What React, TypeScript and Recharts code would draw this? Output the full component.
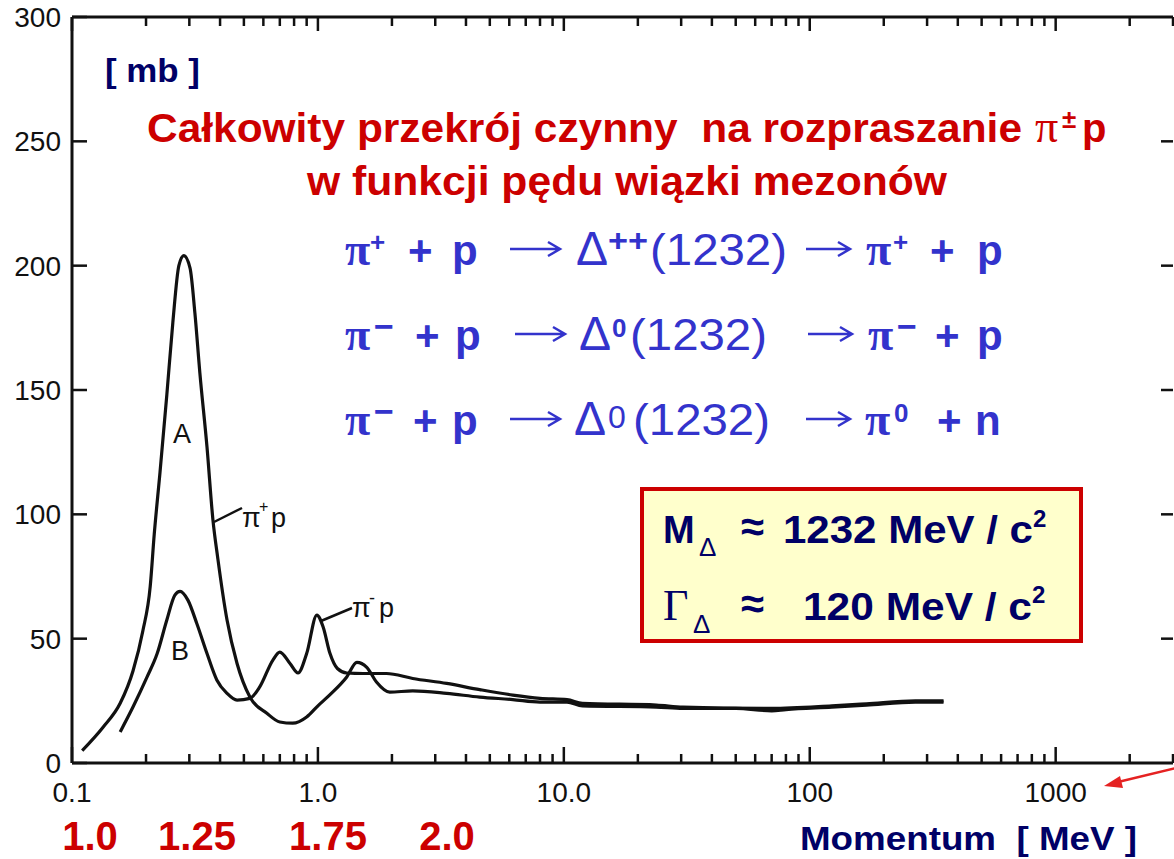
import React from 'react';
import { LineChart, Line, XAxis, YAxis, ReferenceLine } from 'recharts';

// pi+ p total cross-section (curve A), momentum in GeV/c, sigma in mb
const piPlusMomentum = [
  0.11, 0.134, 0.157, 0.177, 0.194, 0.208, 0.216, 0.228, 0.243, 0.257, 0.272, 0.285,
  0.302, 0.316, 0.331, 0.354, 0.374, 0.392, 0.427, 0.469, 0.529, 0.62, 0.7, 0.79,
  0.9, 1.0, 1.12, 1.31, 1.44, 1.58, 1.73, 1.96, 2.43, 3.34, 4.55, 6.2, 8.0, 10.3,
  11.9, 23.8, 30.5, 50, 70, 80, 123, 170, 269, 350,
];
const piPlusSigma = [
  5, 14.5, 24, 37, 53, 71, 92, 117, 148, 177, 200, 204,
  199, 181, 157, 127, 98, 82, 57.5, 40, 26.5, 20, 16.5, 16,
  18.5, 23, 27.5, 34.6, 40.5, 38.5, 32.6, 28.5, 29, 28, 26.5, 25.5, 24.5, 24.5,
  23, 22.5, 22, 22, 21, 21.5, 22.5, 23.3, 24.5, 24.5,
];

// pi- p total cross-section (curve B)
const piMinusMomentum = [
  0.157, 0.177, 0.202, 0.222, 0.243, 0.262, 0.275, 0.296, 0.322, 0.354, 0.388, 0.427,
  0.469, 0.529, 0.58, 0.656, 0.7, 0.77, 0.83, 0.9, 0.99, 1.05, 1.12, 1.2, 1.31,
  1.53, 1.9, 2.43, 3.34, 4.55, 6.2, 8.0, 10.3, 11.9, 23.8, 30.5, 70, 123, 170, 269, 350,
];
const piMinusSigma = [
  12.5, 22.5, 34.6, 44, 57.5, 67.5, 69, 65.5, 56, 44, 33.4, 28,
  25.3, 26, 30.6, 41.4, 44.6, 40, 36.2, 44, 59.5, 54.7, 44, 38, 36.2,
  36, 36, 34, 32, 29.5, 27.3, 26, 25.5, 24, 23.3, 22.5, 22, 23, 23.8, 25, 25,
];

const DECADES = [0.1, 1, 10, 100, 1000];
const X_TICK_LABELS = ['0.1', '1.0', '10.0', '100', '1000'];
const X_DOMAIN: [number, number] = [0.1, 3000];
const Y_TICKS = [0, 50, 100, 150, 200, 250, 300];
const ENERGY_LABELS = ['1.0', '1.25', '1.75', '2.0'];

const xTicks = DECADES.flatMap(d => [1, 2, 3, 4, 5, 6, 7, 8, 9].map(k => k * d)).filter(v => v <= X_DOMAIN[1]);

const piPlusData = piPlusMomentum.map((x, i) => ({ x, y: piPlusSigma[i] }));
const piMinusData = piMinusMomentum.map((x, i) => ({ x, y: piMinusSigma[i] }));

const W = 1174;
const H = 859;
const PLOT_LEFT = 72;
const PLOT_TOP = 17;
const PLOT_BOTTOM = 763;
const PLOT_RIGHT = 1173;

const SANS = '"Liberation Sans", Arial, Helvetica, sans-serif';
const SERIF = '"Liberation Serif", "Times New Roman", serif';
const RED = '#cc0000';
const BLUE = '#3333cc';
const NAVY = '#000066';

const XTick = (props: any) => {
  const { x, payload } = props;
  const v = payload.value;
  const lg = Math.log10(v);
  const major = Math.abs(lg - Math.round(lg)) < 1e-6;
  const idx = DECADES.findIndex(d => Math.abs(Math.log10(d) - lg) < 1e-6);
  return (
    <g>
      <line x1={x} x2={x} y1={PLOT_BOTTOM} y2={PLOT_BOTTOM - (major ? 16 : 9)} stroke="#111" strokeWidth={2.5} />
      <line x1={x} x2={x} y1={PLOT_TOP} y2={PLOT_TOP + (major ? 14 : 9)} stroke="#111" strokeWidth={2.5} />
      {idx >= 0 && (
        <text x={x} y={PLOT_BOTTOM + 39} textAnchor="middle" fontFamily={SANS} fontSize={28} fill="#111">
          {X_TICK_LABELS[idx]}
        </text>
      )}
    </g>
  );
};

const YTick = (props: any) => {
  const { y, payload } = props;
  const v = payload.value;
  return (
    <g>
      <line x1={PLOT_LEFT} x2={PLOT_LEFT + 15} y1={y} y2={y} stroke="#111" strokeWidth={2.5} />
      {v > 0 && v < 300 && (
        <line x1={PLOT_RIGHT - 12} x2={PLOT_RIGHT} y1={y} y2={y} stroke="#111" strokeWidth={2.5} />
      )}
      <text x={61} y={y + 10} textAnchor="end" fontFamily={SANS} fontSize={28} fill="#111">
        {v}
      </text>
    </g>
  );
};

const Arrow = ({ x1, x2, y, color }: { x1: number; x2: number; y: number; color: string }) => (
  <path d={`M${x1} ${y} L${x2} ${y} M${x2 - 12} ${y - 7} L${x2} ${y} L${x2 - 12} ${y + 7}`} stroke={color} strokeWidth={2.5} fill="none" />
);

const t = (x: number, y: number, s: string, size: number, opts: any = {}) => (
  <text
    x={x}
    y={y}
    fontFamily={opts.serif ? SERIF : SANS}
    fontSize={size}
    fontWeight={opts.normal ? 'normal' : 'bold'}
    fill={opts.fill || BLUE}
    textLength={opts.len}
    lengthAdjust={opts.len ? 'spacingAndGlyphs' : undefined}
    style={{ whiteSpace: 'pre' }}
  >
    {s}
  </text>
);

const Overlay = () => (
  <svg width={W} height={H} style={{ position: 'absolute', left: 0, top: 0, pointerEvents: 'none' }}>
    {/* unit */}
    {t(105, 82, '[ mb ]', 34, { fill: NAVY, len: 95 })}

    {/* title */}
    {t(147, 142, 'Całkowity przekrój czynny  na rozpraszanie', 40, { fill: RED, len: 875 })}
    {t(1035, 142, 'π', 46, { fill: RED, serif: true, normal: true })}
    {t(1062, 128, '±', 26, { fill: RED })}
    {t(1082, 142, 'p', 40, { fill: RED })}
    {t(307, 195, 'w funkcji pędu wiązki mezonów', 40, { fill: RED, len: 640 })}

    {/* reaction 1 */}
    {t(345, 265, 'π', 46, { serif: true })}
    {t(370, 251, '+', 26)}
    {t(408, 265, '+', 42)}
    {t(452, 265, 'p', 42)}
    <Arrow x1={510} x2={560} y={249} color={BLUE} />
    {t(576, 265, 'Δ', 48, { normal: true })}
    {t(608, 251, '++', 32, { len: 40 })}
    {t(650, 265, '(1232)', 44, { normal: true, len: 137 })}
    <Arrow x1={806} x2={850} y={249} color={BLUE} />
    {t(866, 265, 'π', 46, { serif: true })}
    {t(893, 251, '+', 26)}
    {t(930, 265, '+', 42)}
    {t(977, 265, 'p', 42)}

    {/* reaction 2 */}
    {t(345, 350, 'π', 46, { serif: true })}
    {t(374, 338, '−', 34)}
    {t(415, 350, '+', 42)}
    {t(455, 350, 'p', 42)}
    <Arrow x1={515} x2={565} y={334} color={BLUE} />
    {t(579, 350, 'Δ', 48, { normal: true })}
    {t(612, 337, '0', 26)}
    {t(630, 350, '(1232)', 44, { normal: true, len: 137 })}
    <Arrow x1={808} x2={852} y={334} color={BLUE} />
    {t(868, 350, 'π', 46, { serif: true })}
    {t(897, 338, '−', 34)}
    {t(935, 350, '+', 42)}
    {t(977, 350, 'p', 42)}

    {/* reaction 3 */}
    {t(345, 435, 'π', 46, { serif: true })}
    {t(374, 423, '−', 34)}
    {t(413, 435, '+', 42)}
    {t(452, 435, 'p', 42)}
    <Arrow x1={510} x2={560} y={419} color={BLUE} />
    {t(574, 435, 'Δ', 48, { normal: true })}
    {t(608, 428, '0', 32, { normal: true })}
    {t(633, 435, '(1232)', 44, { normal: true, len: 137 })}
    <Arrow x1={806} x2={850} y={419} color={BLUE} />
    {t(865, 435, 'π', 46, { serif: true })}
    {t(894, 422, '0', 26)}
    {t(937, 435, '+', 42)}
    {t(975, 435, 'n', 42)}

    {/* parameter box */}
    <rect x={642} y={489} width={439} height={152} fill="#ffffcc" stroke={RED} strokeWidth={4} />
    {t(663, 543, 'M', 38, { fill: NAVY })}
    {t(699, 556, 'Δ', 26, { fill: NAVY, normal: true })}
    {t(741, 541, '≈', 42, { fill: NAVY })}
    {t(783, 543, '1232 MeV / c', 38, { fill: NAVY, len: 250 })}
    {t(1033, 527, '2', 24, { fill: NAVY })}
    {t(663, 620, 'Γ', 44, { fill: NAVY, serif: true, normal: true })}
    {t(693, 633, 'Δ', 26, { fill: NAVY, normal: true })}
    {t(741, 618, '≈', 42, { fill: NAVY })}
    {t(803, 620, '120 MeV / c', 38, { fill: NAVY, len: 229 })}
    {t(1032, 603, '2', 24, { fill: NAVY })}

    {/* curve labels */}
    {t(173, 443, 'A', 27, { fill: '#111', normal: true })}
    {t(171, 660, 'B', 27, { fill: '#111', normal: true })}
    <path d="M214 522 L242 508" stroke="#111" strokeWidth={2.5} fill="none" />
    {t(242, 527, 'π', 27, { fill: '#111', normal: true })}
    {t(259, 512, '+', 16, { fill: '#111', normal: true })}
    {t(271, 527, 'p', 27, { fill: '#111', normal: true })}
    <path d="M321 621 L352 608" stroke="#111" strokeWidth={2.5} fill="none" />
    {t(352, 617, 'π', 27, { fill: '#111', normal: true })}
    {t(369, 604, '-', 18, { fill: '#111', normal: true })}
    {t(379, 617, 'p', 27, { fill: '#111', normal: true })}

    {/* energy scale and axis title */}
    {[90, 197, 328, 447].map((cx, i) =>
      <text key={i} x={cx} y={850} textAnchor="middle" fontFamily={SANS} fontSize={40} fontWeight="bold" fill={RED}>
        {ENERGY_LABELS[i]}
      </text>
    )}
    {t(800, 850, 'Momentum  [ MeV ]', 34, { fill: NAVY, len: 337 })}

    {/* red pointer */}
    <path d="M1176 768 L1118 782" stroke="#e52222" strokeWidth={2.5} fill="none" />
    <path d="M1104 786 L1120 776 L1123 788 Z" fill="#e52222" />
  </svg>
);

export default function App() {
  return (
    <div style={{ position: 'absolute', left: 0, top: 0, width: W, height: H, background: '#fff' }}>
      <LineChart width={W} height={H} margin={{ top: PLOT_TOP, right: W - PLOT_RIGHT, bottom: 0, left: 0 }}>
        <XAxis
          dataKey="x"
          type="number"
          scale="log"
          domain={X_DOMAIN}
          allowDataOverflow
          ticks={xTicks}
          interval={0}
          height={H - PLOT_BOTTOM}
          axisLine={{ stroke: '#111', strokeWidth: 3 }}
          tickLine={false}
          tick={<XTick />}
        />
        <YAxis
          type="number"
          domain={[0, 300]}
          ticks={Y_TICKS}
          interval={0}
          width={PLOT_LEFT}
          axisLine={{ stroke: '#111', strokeWidth: 3 }}
          tickLine={false}
          tick={<YTick />}
        />
        <ReferenceLine y={300} stroke="#111" strokeWidth={3} />
        <Line data={piPlusData} dataKey="y" type="monotone" stroke="#111" strokeWidth={3.2} dot={false} isAnimationActive={false} />
        <Line data={piMinusData} dataKey="y" type="monotone" stroke="#111" strokeWidth={3.2} dot={false} isAnimationActive={false} />
      </LineChart>
      <Overlay />
    </div>
  );
}
